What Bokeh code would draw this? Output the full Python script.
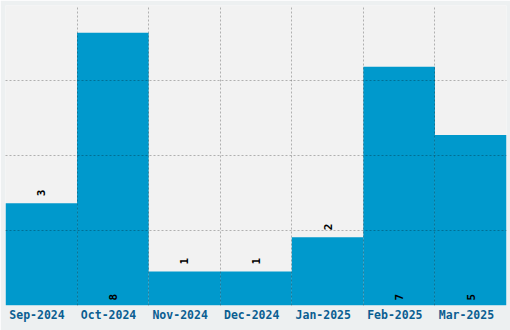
import math
from bokeh.plotting import figure
from bokeh.models import Range1d, FixedTicker
from bokeh.core.properties import value
from bokeh.embed import file_html
from bokeh.resources import INLINE

months = ["Sep-2024", "Oct-2024", "Nov-2024", "Dec-2024", "Jan-2025", "Feb-2025", "Mar-2025"]
counts = [3, 8, 1, 1, 2, 7, 5]

n = len(months)
centers = [i + 0.5 for i in range(n)]
label_pos = [c - 0.06 for c in centers]
ymax = max(counts) * 1.1

p = figure(width=510, height=330, output_backend="svg", toolbar_location=None,
           x_range=Range1d(0, n), y_range=Range1d(0, ymax),
           min_border_left=5, min_border_right=4, min_border_top=5, min_border_bottom=25)
p.background_fill_color = "#f2f2f2"
p.border_fill_color = "#edf0f1"
p.outline_line_color = None

p.vbar(x=centers, top=counts, width=1.0, bottom=0, fill_color="#0099cc", line_color=None)

# grid
p.xgrid.ticker = FixedTicker(ticks=list(range(1, n)))
p.ygrid.ticker = FixedTicker(ticks=[ymax * k / 4 for k in range(1, 4)])
for g in (p.xgrid, p.ygrid):
    g.grid_line_color = "black"
    g.grid_line_alpha = 0.27
    g.grid_line_dash = "2 2"
    g.grid_line_width = 1
    g.level = "overlay"

p.yaxis.visible = False
ax = p.xaxis[0]
ax.ticker = FixedTicker(ticks=label_pos)
ax.major_label_overrides = {c: m for c, m in zip(label_pos, months)}
ax.axis_line_color = None
ax.major_tick_line_color = None
ax.minor_tick_line_color = None
ax.major_tick_out = 0
ax.major_tick_in = 0
ax.major_label_standoff = 2
ax.major_label_text_font = "DejaVu Sans Mono"
ax.major_label_text_font_style = "bold"
ax.major_label_text_font_size = "11.5px"
ax.major_label_text_color = "#0b5e91"

thr = max(counts) / 2
above_x = [c for c, v in zip(centers, counts) if v < thr]
above_y = [v for v in counts if v < thr]
inside_x = [c for c, v in zip(centers, counts) if v >= thr]
inside_v = [v for v in counts if v >= thr]

common = dict(angle=math.pi / 2, text_align="left", text_baseline="middle",
              text_font=value("DejaVu Sans Mono"), text_font_style="bold",
              text_font_size="11px", text_color="black")
p.text(x=above_x, y=above_y, text=[str(v) for v in above_y], y_offset=-7, **common)
p.text(x=inside_x, y=[0] * len(inside_x), text=[str(v) for v in inside_v], y_offset=-5, **common)

open("out.html", "w").write(file_html(p, INLINE))
